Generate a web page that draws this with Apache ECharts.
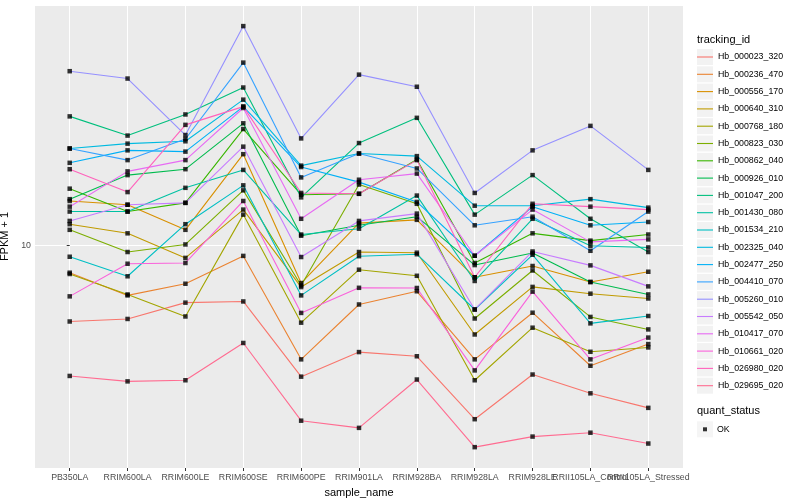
<!DOCTYPE html>
<html><head><meta charset="utf-8">
<script src="https://cdn.jsdelivr.net/npm/echarts@6/dist/echarts.min.js"></script>
<style>html,body{margin:0;padding:0;background:#fff}#c{width:800px;height:500px}</style>
</head><body><div id="c"></div>
<script>
const categories = ['PB350LA','RRIM600LA','RRIM600LE','RRIM600SE','RRIM600PE','RRIM901LA','RRIM928BA','RRIM928LA','RRIM928LE','RRII105LA_Control','RRII105LA_Stressed'];
const trackingIds = ['Hb_000023_320','Hb_000236_470','Hb_000556_170','Hb_000640_310','Hb_000768_180','Hb_000823_030','Hb_000862_040','Hb_000926_010','Hb_001047_200','Hb_001430_080','Hb_001534_210','Hb_002325_040','Hb_002477_250','Hb_004410_070','Hb_005260_010','Hb_005542_050','Hb_010417_070','Hb_010661_020','Hb_026980_020','Hb_029695_020'];
const quantStatus = ['OK'];

const hb_000023_320 = [5.59, 5.70, 6.46, 6.52, 3.66, 4.42, 4.28, 2.64, 3.72, 3.22, 2.88];
const hb_000236_470 = [8.13, 6.83, 7.47, 9.25, 4.18, 6.37, 7.05, 4.18, 5.98, 3.98, 4.70];
const hb_000556_170 = [14.1, 13.7, 11.3, 20.2, 7.51, 11.9, 12.2, 7.85, 8.56, 7.57, 8.19];
const hb_000640_310 = [11.8, 11.0, 9.11, 13.2, 7.28, 9.53, 9.48, 5.06, 7.29, 6.92, 6.67];
const hb_000768_180 = [8.05, 6.88, 5.81, 12.7, 5.54, 8.32, 7.94, 3.56, 5.33, 4.43, 4.58];
const hb_000823_030 = [11.3, 9.53, 10.1, 15.3, 7.37, 16.0, 13.8, 5.72, 8.27, 5.79, 5.26];
const hb_000862_040 = [15.5, 13.0, 13.9, 24.5, 14.8, 14.9, 19.4, 8.76, 11.0, 10.4, 10.9];
const hb_000926_010 = [14.3, 17.2, 18.0, 25.6, 10.8, 11.7, 12.5, 8.62, 9.46, 7.57, 6.88];
const hb_001047_200 = [27.0, 23.3, 27.4, 33.7, 14.5, 22.0, 26.7, 12.7, 17.2, 12.3, 9.53];
const hb_001430_080 = [13.0, 13.0, 15.6, 17.9, 10.9, 11.4, 14.7, 7.63, 12.3, 10.0, 9.87];
const hb_001534_210 = [9.19, 7.91, 11.8, 15.9, 6.83, 9.23, 9.37, 6.13, 9.33, 5.51, 5.83];
const hb_002325_040 = [21.1, 21.9, 22.3, 30.7, 18.5, 20.3, 19.9, 13.6, 13.6, 14.3, 13.4];
const hb_002477_250 = [18.9, 20.8, 20.6, 29.1, 18.3, 16.3, 14.0, 9.26, 13.5, 11.7, 12.0];
const hb_004410_070 = [21.1, 19.3, 22.7, 40.8, 16.9, 20.3, 18.1, 11.7, 12.5, 9.62, 13.0];
const hb_005260_010 = [38.2, 36.1, 23.4, 54.0, 22.8, 37.2, 33.9, 15.0, 20.8, 25.1, 17.9];
const hb_005542_050 = [12.1, 13.7, 13.9, 21.4, 9.17, 12.1, 12.8, 6.13, 9.57, 8.60, 7.32];
const hb_010417_070 = [13.5, 17.7, 19.3, 28.8, 12.3, 16.6, 17.4, 9.26, 13.2, 10.3, 10.5];
const hb_010661_020 = [6.78, 8.71, 8.76, 14.1, 5.97, 7.24, 7.23, 3.84, 7.03, 4.18, 4.94];
const hb_026980_020 = [18.0, 15.1, 25.3, 29.1, 15.0, 14.9, 19.3, 7.85, 13.8, 13.5, 13.2];
const hb_029695_020 = [3.68, 3.53, 3.56, 4.74, 2.61, 2.47, 3.58, 2.13, 2.31, 2.38, 2.19];

const seriesValues = [hb_000023_320, hb_000236_470, hb_000556_170, hb_000640_310, hb_000768_180,
  hb_000823_030, hb_000862_040, hb_000926_010, hb_001047_200, hb_001430_080, hb_001534_210,
  hb_002325_040, hb_002477_250, hb_004410_070, hb_005260_010, hb_005542_050, hb_010417_070,
  hb_010661_020, hb_026980_020, hb_029695_020];

const colors = ['#F8766D','#EA8331','#D89000','#C09B00','#A3A500','#7CAE00','#39B600','#00BB4E','#00BF7D','#00C1A3',
  '#00BFC4','#00BAE0','#00B0F6','#35A2FF','#9590FF','#C77CFF','#E76BF3','#FA62DB','#FF62BC','#FF6C91'];

const font = '"Liberation Sans", Arial, Helvetica, sans-serif';
const tickIdx = categories.map((_, i) => i);
// labels split over two axes so that overlapping neighbours are both drawn (as in the reference)
const labelIdxA = tickIdx.filter(i => i % 2 === 0);
const labelIdxB = tickIdx.filter(i => i % 2 === 1);
const catLabel = v => (categories[v] !== undefined ? categories[v] : '');

const lineSeries = trackingIds.map((name, k) => ({
  name: name, type: 'line',
  data: seriesValues[k].map((v, i) => [i, v]),
  showSymbol: false, symbol: 'none',
  lineStyle: { width: 1.1, color: colors[k] },
  itemStyle: { color: colors[k] },
  emphasis: { disabled: true }, silent: true, z: 2
}));
const points = [];
seriesValues.forEach(vals => vals.forEach((v, i) => points.push([i, v])));
const okSeries = {
  name: quantStatus[0], type: 'scatter', data: points, symbol: 'rect', symbolSize: 4.5,
  itemStyle: { color: '#000' }, silent: true, z: 3
};

const labelStyle = { hideOverlap: false, showMinLabel: true, showMaxLabel: true, formatter: catLabel,
  fontSize: 8.8, color: '#4D4D4D', margin: 5, fontFamily: font };

const chart = echarts.init(document.getElementById('c'), null, { renderer: 'canvas' });
chart.setOption({
  animation: false,
  backgroundColor: '#fff',
  textStyle: { fontFamily: font },
  title: [
    { text: 'tracking_id', left: 697, top: 34, padding: 0,
      textStyle: { fontSize: 11, fontWeight: 'normal', color: '#000', fontFamily: font } },
    { text: 'quant_status', left: 697, top: 405, padding: 0,
      textStyle: { fontSize: 11, fontWeight: 'normal', color: '#000', fontFamily: font } }
  ],
  legend: [
    { data: trackingIds, orient: 'vertical', left: 697, top: 49, padding: 0,
      itemWidth: 16, itemHeight: 16, itemGap: 1.3, icon: 'rect', selectedMode: false,
      itemStyle: { color: '#F2F2F2' }, formatter: () => '',
      textStyle: { fontSize: 8.8, lineHeight: 16 } },
    { data: trackingIds, orient: 'vertical', left: 697, top: 49, padding: 0,
      itemWidth: 16, itemHeight: 1.1, itemGap: 1.3, icon: 'rect', selectedMode: false,
      textStyle: { fontSize: 8.8, lineHeight: 16, color: '#000', fontFamily: font } },
    { data: quantStatus, orient: 'vertical', left: 697, top: 421.3, padding: 0,
      itemWidth: 16, itemHeight: 16, icon: 'rect', selectedMode: false,
      itemStyle: { color: '#F2F2F2' }, formatter: () => '',
      textStyle: { fontSize: 8.8, lineHeight: 16 } },
    { data: quantStatus, orient: 'vertical', left: 703, top: 421.3, padding: 0,
      itemWidth: 4, itemHeight: 4, icon: 'rect', selectedMode: false,
      textStyle: { fontSize: 8.8, lineHeight: 16, color: '#000', fontFamily: font, padding: [0, 0, 0, 5] } }
  ],
  grid: { left: 35, right: 117, top: 5, bottom: 32, show: true, backgroundColor: '#EBEBEB', borderWidth: 0,
    containLabel: false, outerBoundsMode: 'none' },
  xAxis: [
    {
      type: 'value', min: -0.6, max: 10.6, position: 'bottom',
      name: 'sample_name', nameLocation: 'middle', nameGap: 19,
      nameTextStyle: { fontSize: 11, color: '#000', fontFamily: font },
      axisLine: { show: false },
      axisTick: { show: true, length: 3, lineStyle: { color: '#333333', width: 1 }, customValues: tickIdx },
      axisLabel: Object.assign({ customValues: labelIdxA }, labelStyle),
      splitLine: { show: true, lineStyle: { color: '#FFFFFF', width: 1 } }
    },
    {
      type: 'value', min: -0.6, max: 10.6, position: 'bottom', offset: 0,
      axisLine: { show: false },
      axisTick: { show: false, customValues: labelIdxB },
      axisLabel: Object.assign({ customValues: labelIdxB }, labelStyle),
      splitLine: { show: false }
    }
  ],
  yAxis: {
    type: 'log', logBase: 10, min: 1.815, max: 63.5,
    name: 'FPKM + 1', nameLocation: 'middle', nameGap: 22, nameRotate: 90,
    nameTextStyle: { fontSize: 11, color: '#000', fontFamily: font },
    axisLine: { show: false },
    axisTick: { show: true, length: 3, lineStyle: { color: '#333333', width: 1 } },
    axisLabel: { showMinLabel: false, showMaxLabel: false, fontSize: 8.8, color: '#4D4D4D', margin: 4, fontFamily: font },
    splitLine: { show: true, lineStyle: { color: '#FFFFFF', width: 1 } }
  },
  series: lineSeries.concat([okSeries])
});
</script>
</body></html>
